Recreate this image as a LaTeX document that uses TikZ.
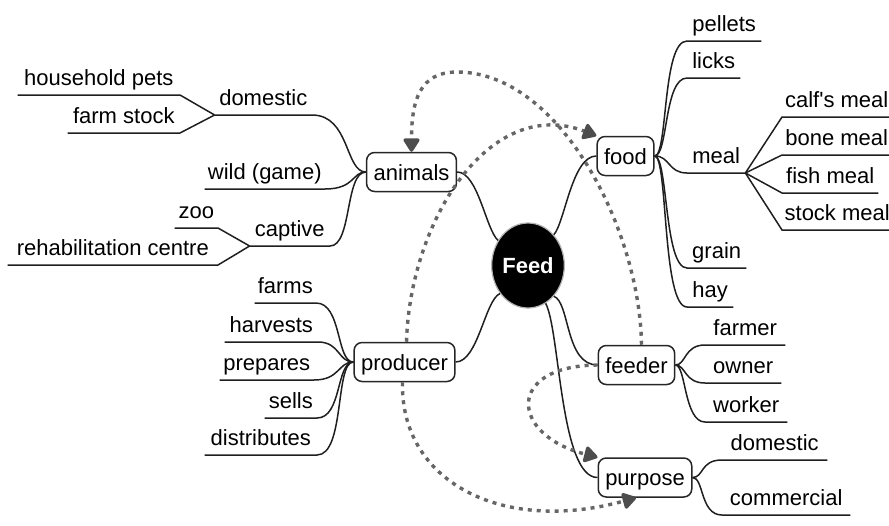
\documentclass[tikz,border=0pt]{standalone}
\usepackage{fontspec}
\setmainfont[Ligatures=TeXOff]{Liberation Sans}
\usetikzlibrary{shapes.geometric,arrows.meta}
\newcommand\mapfont{\fontsize{22}{26}\selectfont}
\definecolor{linkgray}{HTML}{666666}
\definecolor{tipgray}{HTML}{4D4D4D}
\tikzset{
  branch/.style={line width=1.5pt, draw=black!88},
  topic/.style={draw=black!85, line width=1.5pt, rounded corners=8pt,
    inner xsep=7pt, inner ysep=0pt, minimum height=39pt,
    text height=18pt, text depth=2pt, fill=white},
  leaf/.style={inner sep=0pt, text height=16pt, text depth=9pt, minimum width=#1pt},
  centre/.style={ellipse, fill=black, draw=gray!60, line width=1.2pt,
    minimum width=70pt, minimum height=85pt, inner sep=0pt,
    text=white, font=\mapfont\bfseries},
  link/.style={draw=linkgray, line width=3.4pt, dash pattern=on 4pt off 5pt,
    -{Triangle[length=15pt,width=18pt,round,color=tipgray]}},
}
\begin{document}
\begin{tikzpicture}[x=1pt, y=-1pt, font=\mapfont]
\useasboundingbox (0,0) rectangle (889,525);

% central topic and main topics
\node[centre] (feed) at (528,265.5) {Feed};
\node[topic] (animals)  at (411.5,172) {animals};
\node[topic] (food)     at (625.5,156) {food};
\node[topic] (producer) at (404.5,362) {producer};
\node[topic] (feeder)   at (636.5,365) {feeder};
\node[topic] (purpose)  at (645,477.5) {purpose};

% food subtopics
\node[leaf=74, anchor=south west] (pellets) at (687,41)  {pellets};
\node[leaf=53, anchor=south west] (licks)   at (687,78)  {licks};
\node[leaf=58, anchor=south west] (meal)    at (687,173) {meal};
\node[leaf=59, anchor=south west] (grain)   at (687,268) {grain};
\node[leaf=46, anchor=south west] (hay)     at (687,307) {hay};
\node[leaf=109, anchor=south west] (calf)   at (782,117) {calf's meal};
\node[leaf=109, anchor=south west] (bone)   at (782,155) {bone meal};
\node[leaf=96,  anchor=south west] (fish)   at (782,193) {fish meal};
\node[leaf=110, anchor=south west] (stock)  at (782,230) {stock meal};

% animals subtopics
\node[leaf=97,  anchor=south east] (anidom)    at (312,115) {domestic};
\node[leaf=120, anchor=south east] (wild)      at (325,189) {wild (game)};
\node[leaf=80,  anchor=south east] (captive)   at (330,246) {captive};
\node[leaf=162, anchor=south east] (household) at (180,95)  {household pets};
\node[leaf=112, anchor=south east] (farmstock) at (180,133) {farm stock};
\node[leaf=43,  anchor=south east] (zoo)       at (218,228) {zoo};
\node[leaf=210, anchor=south east] (rehab)     at (218,265) {rehabilitation centre};

% producer subtopics
\node[leaf=61,  anchor=south east] (farms)       at (316,303) {farms};
\node[leaf=93,  anchor=south east] (harvests)    at (318,342) {harvests};
\node[leaf=94,  anchor=south east] (prepares)    at (314,380) {prepares};
\node[leaf=52,  anchor=south east] (sells)       at (317,418) {sells};
\node[leaf=112, anchor=south east] (distributes) at (317,455) {distributes};

% feeder subtopics
\node[leaf=80, anchor=south west] (farmer) at (705,345) {farmer};
\node[leaf=76, anchor=south west] (owner)  at (705,383) {owner};
\node[leaf=82, anchor=south west] (worker) at (705,422) {worker};

% purpose subtopics
\node[leaf=105, anchor=south west] (purpdom)    at (722,460) {domestic};
\node[leaf=128, anchor=south west] (commercial) at (722,515) {commercial};

% centre to main topics
\draw[branch] (feed.140) .. controls (486,230) and (478,172) .. (animals.east);
\draw[branch] (feed.50)  .. controls (565,222) and (572,156) .. (food.west);
\draw[branch] (feed.225) .. controls (485,300) and (478,362) .. (producer.east);
\draw[branch] (feed.310) .. controls (570,302) and (565,365) .. (feeder.west);
\draw[branch] (feed.295) .. controls (560,330) and (560,477.5) .. (purpose.west);

% food branches
\draw[branch] (food.east) .. controls (668,156) and (662,41)  .. (pellets.south west) -- (pellets.south east);
\draw[branch] (food.east) .. controls (668,156) and (664,78)  .. (licks.south west) -- (licks.south east);
\draw[branch] (food.east) .. controls (670,156) and (668,173) .. (meal.south west) -- (meal.south east);
\draw[branch] (food.east) .. controls (668,156) and (664,268) .. (grain.south west) -- (grain.south east);
\draw[branch] (food.east) .. controls (668,156) and (662,307) .. (hay.south west) -- (hay.south east);
\foreach \m in {calf,bone,fish,stock}
  \draw[branch] (meal.south east) -- (\m.south west) -- (\m.south east);

% animals branches
\draw[branch] (animals.west) .. controls (345,172) and (350,115) .. (anidom.south east) -- (anidom.south west);
\draw[branch] (animals.west) .. controls (352,172) and (355,189) .. (wild.south east) -- (wild.south west);
\draw[branch] (animals.west) .. controls (345,172) and (352,246) .. (captive.south east) -- (captive.south west);
\foreach \m in {household,farmstock}
  \draw[branch] (anidom.south west) -- (\m.south east) -- (\m.south west);
\foreach \m in {zoo,rehab}
  \draw[branch] (captive.south west) -- (\m.south east) -- (\m.south west);

% producer branches
\draw[branch] (producer.west) .. controls (336,362) and (342,303) .. (farms.south east) -- (farms.south west);
\draw[branch] (producer.west) .. controls (338,362) and (340,342) .. (harvests.south east) -- (harvests.south west);
\draw[branch] (producer.west) .. controls (338,362) and (340,380) .. (prepares.south east) -- (prepares.south west);
\draw[branch] (producer.west) .. controls (336,362) and (342,418) .. (sells.south east) -- (sells.south west);
\draw[branch] (producer.west) .. controls (335,362) and (345,455) .. (distributes.south east) -- (distributes.south west);

% feeder branches
\draw[branch] (feeder.east) .. controls (686,365) and (684,345) .. (farmer.south west) -- (farmer.south east);
\draw[branch] (feeder.east) .. controls (686,365) and (684,383) .. (owner.south west) -- (owner.south east);
\draw[branch] (feeder.east) .. controls (686,365) and (684,422) .. (worker.south west) -- (worker.south east);

% purpose branches
\draw[branch] (purpose.east) .. controls (704,477.5) and (700,460) .. (purpdom.south west) -- (purpdom.south east);
\draw[branch] (purpose.east) .. controls (704,477.5) and (700,515) .. (commercial.south west) -- (commercial.south east);

% dotted relationship links
\draw[link] ([xshift=5pt]feeder.north) .. controls (640,230) and (560,72) .. (457,72)
  .. controls (420,72) and (411.5,100) .. (animals.north);
\draw[link] ([xshift=2pt]producer.north) .. controls (410,220) and (490,95) .. (food.north west);
\draw[link] ([xshift=-2pt]producer.south) .. controls (400,480) and (500,535) .. ([xshift=-9pt]purpose.south);
\draw[link] (feeder.west) .. controls (505,366) and (510,435) .. (purpose.north west);
\end{tikzpicture}
\end{document}
